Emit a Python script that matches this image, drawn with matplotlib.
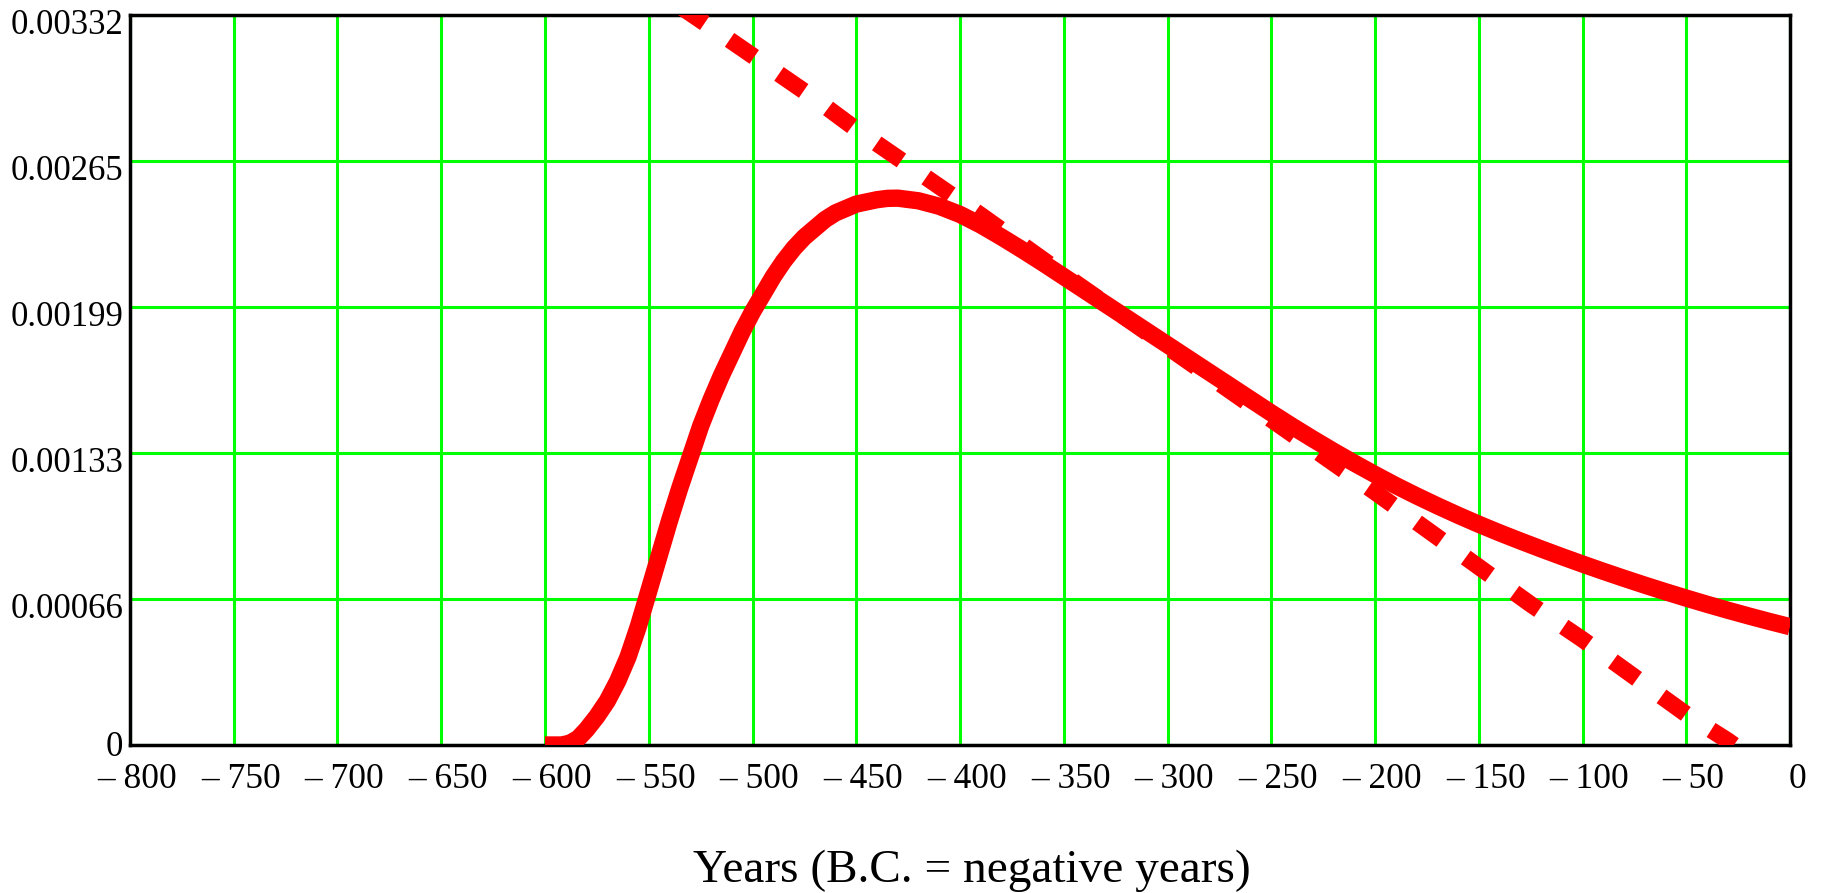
import numpy as np
import matplotlib
matplotlib.use("Agg")
from matplotlib import pyplot as plt
from matplotlib import transforms

# solid curve: yearly density (years, value)
solid_years = [-600, -592, -588, -584, -580, -575, -570, -565, -560, -555,
               -550, -545, -540, -535, -530, -525, -520, -515, -510, -505,
               -500, -495, -490, -485, -480, -475, -470, -465, -460, -455,
               -450, -445, -440, -435, -430, -420, -410, -400, -390, -380,
               -370, -360, -350, -340, -330, -320, -310, -300, -290, -280,
               -270, -260, -250, -240, -230, -220, -210, -200, -190, -180,
               -170, -160, -150, -140, -130, -120, -110, -100, -90, -80,
               -70, -60, -50, -40, -30, -20, -10, 0]
solid_vals = [0, 0, 0.000008, 0.00003, 0.00007, 0.00013, 0.0002, 0.00029, 0.0004, 0.00054,
              0.0007, 0.00086, 0.00102, 0.00117, 0.00131, 0.00145, 0.00157, 0.00168, 0.00178, 0.00188,
              0.00197, 0.00205, 0.00213, 0.0022, 0.00226, 0.00231, 0.00235, 0.00239, 0.00242, 0.00244,
              0.00246, 0.00247, 0.00248, 0.002486, 0.002487, 0.002475, 0.00245, 0.002413, 0.002365, 0.00231,
              0.002252, 0.002192, 0.00213, 0.002068, 0.002006, 0.001944, 0.001882, 0.00182, 0.001758, 0.001696,
              0.001634, 0.001572, 0.00151, 0.00145, 0.001392, 0.001336, 0.001282, 0.00123, 0.00118, 0.001133,
              0.001088, 0.001045, 0.001004, 0.000965, 0.000928, 0.000892, 0.000857, 0.000823, 0.00079, 0.000758,
              0.000727, 0.000697, 0.000668, 0.00064, 0.000613, 0.000587, 0.000562, 0.000538]

# dashed curve
dash_years = [-535, -510, -490, -470, -450, -430, -410, -390, -350, -300,
              -250, -200, -175, -150, -125, -100, -75, -50, -30, -27]
dash_vals = [0.00336, 0.0032, 0.00307, 0.00294, 0.0028, 0.00267, 0.00254, 0.00241, 0.00214, 0.00181,
             0.00148, 0.00115, 0.00098, 0.00081, 0.00064, 0.00048, 0.00031, 0.00014, 0.00002, 0.0]

x_ticks = list(range(-800, 1, 50))
x_labels = ["\u2013 %d" % -t if t < 0 else "0" for t in x_ticks]
y_ticks = [0, 0.000664, 0.001328, 0.001992, 0.002656, 0.00332]
y_labels = ["0", "0.00066", "0.00133", "0.00199", "0.00265", "0.00332"]

plt.rcParams['font.family'] = ['Liberation Serif', 'DejaVu Serif']

fig = plt.figure(figsize=(18.21, 8.93), dpi=100)
ax = fig.add_axes([130/1821, 1-745/893, 1660/1821, 730/893])

ax.plot(solid_years, solid_vals, color='#ff0000', lw=12.5, solid_capstyle='butt',
        solid_joinstyle='round', zorder=3)
ax.plot(dash_years, dash_vals, color='#ff0000', lw=12, linestyle=(0, (1.8, 1.8)),
        dash_capstyle='butt', zorder=3)

ax.set_xlim(-800, 0)
ax.set_ylim(0, 0.00332)
ax.set_xticks(x_ticks)
ax.set_xticklabels(x_labels, fontsize=25.5)
ax.set_yticks(y_ticks)
ax.set_yticklabels(y_labels, fontsize=25)
ax.tick_params(length=0)
ax.tick_params(axis='x', pad=13)
ax.tick_params(axis='y', pad=5)

# nudge tick labels a few pixels
dx = transforms.ScaledTranslation(7/100, 0, fig.dpi_scale_trans)
for lab in ax.get_xticklabels():
    lab.set_transform(lab.get_transform() + dx)
ylabs = ax.get_yticklabels()
for i, lab in enumerate(ylabs):
    shift = 2 if i == 0 else -7
    dy = transforms.ScaledTranslation(0, shift/100, fig.dpi_scale_trans)
    lab.set_transform(lab.get_transform() + dy)

ax.grid(True, color='#00ff00', lw=2.2, zorder=1)
ax.set_axisbelow(True)
for s in ax.spines.values():
    s.set_color('black')
    s.set_linewidth(2.5)
    s.set_zorder(2)

fig.text(972/1821, 1-871/893, "Years (B.C. = negative years)", fontsize=34,
         ha='center', va='center')

fig.savefig("out.png", dpi=100)
